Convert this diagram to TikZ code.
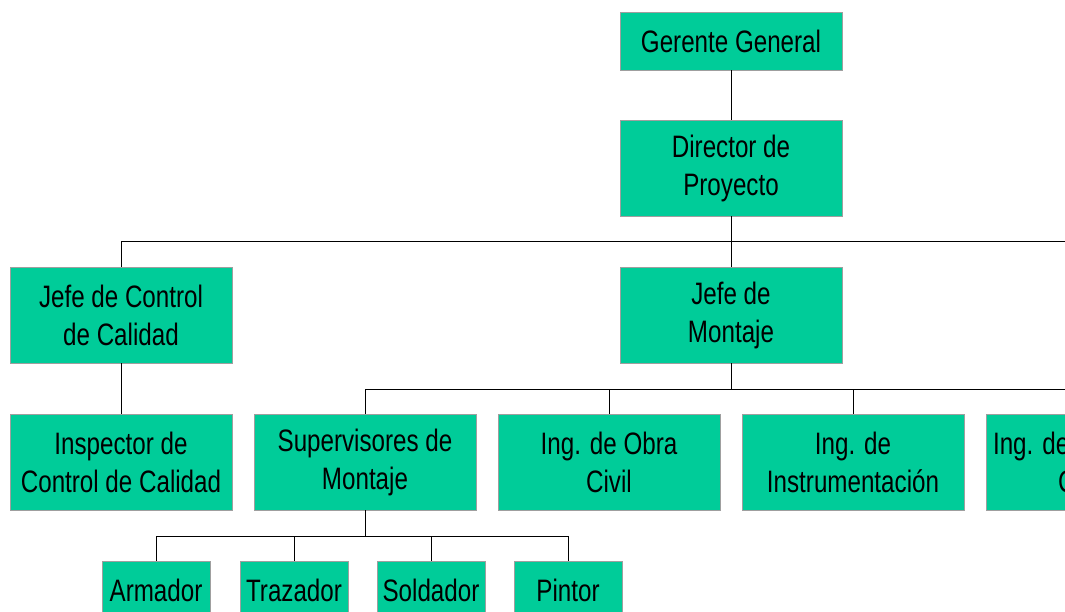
\documentclass[tikz,border=0pt]{standalone}
\usepackage{fontspec}
\setmainfont{Liberation Sans}[FakeStretch=0.78]
\definecolor{boxgreen}{RGB}{0, 204, 153}
\tikzset{
    unit/.style={fill=boxgreen, draw=gray!75, line width=0.8pt,
        minimum width=222pt, minimum height=96pt, inner sep=0pt,
        align=center, font=\fontsize{31}{38}\selectfont},
    crew/.style={unit, minimum width=108pt, minimum height=58pt},
    link/.style={draw=black, line width=1pt}
}

\begin{document}
\begin{tikzpicture}[x=1pt, y=-1pt]

    \useasboundingbox (0, 0) rectangle (1065, 612);
    \clip (0, 0) rectangle (1065, 612);

    % top of the chart
    \node[unit, minimum height=58pt] (gerente) at (731, 41) {Gerente General};
    \node[unit] (director) at (731, 168) {Director de\\Proyecto};

    % second level
    \node[unit] (calidad) at (121, 315) {Jefe de Control\\de Calidad};
    \node[unit] (montaje) at (731, 315) {Jefe de\\Montaje};

    % third level
    \node[unit] (inspector) at (121, 462) {Inspector de\\Control de Calidad};
    \node[unit] (supervisores) at (365, 462) {Supervisores de\\Montaje};
    \node[unit] (obra) at (609, 462) {Ing. de Obra\\Civil};
    \node[unit] (instrum) at (853, 462) {Ing. de\\Instrumentación};
    \node[unit] (control) at (1097, 462) {Ing. de Electricidad\\Control};

    % crews
    \node[crew] (armador) at (156, 590) {Armador};
    \node[crew] (trazador) at (294, 590) {Trazador};
    \node[crew] (soldador) at (431, 590) {Soldador};
    \node[crew] (pintor) at (568, 590) {Pintor};

    \coordinate (topbus) at (1080, 242);
    \coordinate (midbus) at (1120, 389);
    \coordinate (lowbus) at (365, 536);

    \draw[link] (gerente) -- (director);
    \draw[link] (director) -- (montaje);
    \draw[link] (calidad.north) |- (topbus);
    \draw[link] (calidad) -- (inspector);

    \draw[link] (montaje.south) -- (montaje.south |- midbus);
    \draw[link] (supervisores.north) |- (midbus);
    \foreach \ing in {obra, instrum, control} {%
        \draw[link] (\ing.north) -- (\ing.north |- midbus);
    };

    \draw[link] (supervisores) -- (lowbus);
    \draw[link] (armador.north) |- (pintor.north |- lowbus) -- (pintor.north);
    \foreach \job in {trazador, soldador} {%
        \draw[link] (\job.north) -- (\job.north |- lowbus);
    };

\end{tikzpicture}
\end{document}
